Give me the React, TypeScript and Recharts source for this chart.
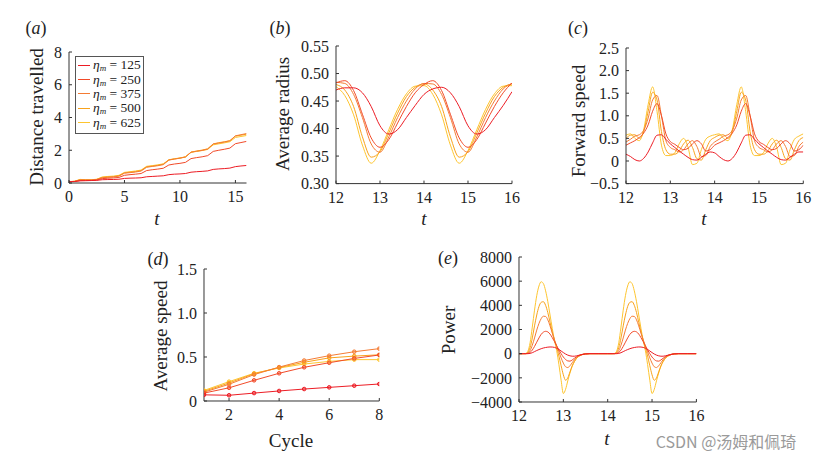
import React from 'react';
import { LineChart, Line, XAxis, YAxis } from 'recharts';

// ---------- shared ----------
const ETA = [125, 250, 375, 500, 625];
const COLORS = ['#ec1c24', '#f14a29', '#f47b33', '#f8a21b', '#fdc52f'];

// ---------- (a) distance travelled ----------
const tA = [0, 0.5, 1, 1.5, 2, 2.5, 3, 3.5, 4, 4.5, 5, 5.5, 6, 6.5, 7, 7.5, 8, 8.5, 9, 9.5, 10, 10.5, 11, 11.5, 12, 12.5, 13, 13.5, 14, 14.5, 15, 15.5, 16];
const distEta125 = [0.08, 0.09, 0.13, 0.14, 0.15, 0.16, 0.2, 0.21, 0.215, 0.23, 0.28, 0.295, 0.305, 0.32, 0.38, 0.4, 0.42, 0.44, 0.51, 0.54, 0.555, 0.58, 0.66, 0.69, 0.71, 0.74, 0.83, 0.86, 0.88, 0.91, 1.0, 1.04, 1.07];
const distEta250 = [0.08, 0.09, 0.15, 0.16, 0.16, 0.18, 0.27, 0.29, 0.31, 0.34, 0.47, 0.51, 0.54, 0.58, 0.76, 0.81, 0.85, 0.9, 1.1, 1.16, 1.2, 1.26, 1.49, 1.55, 1.6, 1.67, 1.93, 2.0, 2.06, 2.13, 2.4, 2.47, 2.54];
const distEta375 = [0.08, 0.1, 0.19, 0.18, 0.18, 0.21, 0.32, 0.35, 0.37, 0.42, 0.6, 0.63, 0.67, 0.73, 0.96, 1.01, 1.055, 1.12, 1.4, 1.46, 1.515, 1.59, 1.88, 1.94, 1.99, 2.07, 2.38, 2.44, 2.5, 2.58, 2.88, 2.95, 3.02];
const distEta500 = [0.08, 0.1, 0.2, 0.19, 0.19, 0.22, 0.34, 0.37, 0.39, 0.44, 0.62, 0.66, 0.7, 0.76, 0.99, 1.03, 1.08, 1.15, 1.41, 1.47, 1.52, 1.59, 1.89, 1.95, 2.01, 2.09, 2.39, 2.46, 2.52, 2.58, 2.86, 2.92, 2.98];
const distEta625 = [0.08, 0.11, 0.22, 0.2, 0.2, 0.23, 0.37, 0.4, 0.42, 0.47, 0.65, 0.69, 0.735, 0.79, 1.02, 1.06, 1.11, 1.17, 1.42, 1.48, 1.53, 1.6, 1.87, 1.93, 1.98, 2.05, 2.33, 2.39, 2.45, 2.52, 2.78, 2.84, 2.9];
const ticksAX = [0, 5, 10, 15];
const ticksAY = [0, 2, 4, 6, 8];

// ---------- (b) average radius ----------
const tB = [12, 12.2, 12.4, 12.6, 12.8, 13, 13.2, 13.4, 13.6, 13.8, 14, 14.2, 14.4, 14.6, 14.8, 15, 15.2, 15.4, 15.6, 15.8, 16];
const radEta125 = [0.47, 0.474, 0.474, 0.465, 0.44, 0.405, 0.39, 0.398, 0.42, 0.442, 0.462, 0.472, 0.475, 0.465, 0.44, 0.405, 0.39, 0.398, 0.42, 0.442, 0.467];
const radEta250 = [0.483, 0.487, 0.469, 0.426, 0.383, 0.366, 0.38, 0.41, 0.44, 0.465, 0.48, 0.487, 0.469, 0.426, 0.383, 0.366, 0.38, 0.41, 0.44, 0.465, 0.483];
const radEta375 = [0.484, 0.482, 0.462, 0.42, 0.372, 0.357, 0.385, 0.42, 0.45, 0.472, 0.482, 0.481, 0.462, 0.42, 0.372, 0.357, 0.385, 0.42, 0.45, 0.472, 0.482];
const radEta500 = [0.48, 0.47, 0.44, 0.385, 0.348, 0.358, 0.392, 0.428, 0.458, 0.475, 0.481, 0.47, 0.44, 0.385, 0.348, 0.358, 0.392, 0.428, 0.458, 0.475, 0.481];
const radEta625 = [0.476, 0.46, 0.425, 0.37, 0.337, 0.36, 0.398, 0.435, 0.463, 0.477, 0.478, 0.462, 0.425, 0.37, 0.337, 0.36, 0.398, 0.435, 0.463, 0.477, 0.478];
const ticksT = [12, 13, 14, 15, 16];
const ticksBY = [0.3, 0.35, 0.4, 0.45, 0.5, 0.55];

// ---------- (c) forward speed ----------
const tC = [12, 12.1, 12.2, 12.3, 12.4, 12.5, 12.6, 12.7, 12.8, 12.9, 13, 13.1, 13.2, 13.3, 13.4, 13.5, 13.6, 13.7, 13.8, 13.9, 14, 14.1, 14.2, 14.3, 14.4, 14.5, 14.6, 14.7, 14.8, 14.9, 15, 15.1, 15.2, 15.3, 15.4, 15.5, 15.6, 15.7, 15.8, 15.9, 16];
const speedEta125 = [0.15, 0.1, 0.03, 0.0, 0.06, 0.2, 0.4, 0.57, 0.58, 0.48, 0.38, 0.3, 0.22, 0.15, 0.08, 0.03, 0.02, 0.08, 0.15, 0.2, 0.18, 0.1, 0.03, 0.0, 0.06, 0.2, 0.4, 0.57, 0.58, 0.48, 0.38, 0.3, 0.22, 0.15, 0.08, 0.03, 0.02, 0.08, 0.15, 0.2, 0.2];
const speedEta250 = [0.35, 0.4, 0.45, 0.52, 0.62, 0.8, 1.1, 1.27, 1.0, 0.6, 0.43, 0.37, 0.3, 0.25, 0.28, 0.38, 0.45, 0.38, 0.22, 0.25, 0.35, 0.4, 0.45, 0.52, 0.62, 0.8, 1.1, 1.27, 1.0, 0.6, 0.43, 0.37, 0.3, 0.25, 0.28, 0.38, 0.45, 0.38, 0.22, 0.25, 0.35];
const speedEta375 = [0.42, 0.48, 0.55, 0.58, 0.68, 0.95, 1.35, 1.45, 1.0, 0.45, 0.3, 0.25, 0.2, 0.25, 0.38, 0.45, 0.32, 0.1, 0.12, 0.32, 0.42, 0.48, 0.55, 0.58, 0.68, 0.95, 1.35, 1.45, 1.0, 0.45, 0.3, 0.25, 0.2, 0.25, 0.38, 0.45, 0.32, 0.1, 0.12, 0.32, 0.42];
const speedEta500 = [0.5, 0.57, 0.58, 0.5, 0.65, 1.1, 1.52, 1.35, 0.65, 0.25, 0.15, 0.15, 0.22, 0.38, 0.46, 0.3, 0.05, 0.02, 0.25, 0.45, 0.52, 0.57, 0.58, 0.5, 0.65, 1.1, 1.52, 1.35, 0.65, 0.25, 0.15, 0.15, 0.22, 0.38, 0.46, 0.3, 0.05, 0.02, 0.25, 0.45, 0.52];
const speedEta625 = [0.57, 0.6, 0.5, 0.45, 0.7, 1.25, 1.64, 1.1, 0.35, 0.12, 0.12, 0.18, 0.38, 0.5, 0.3, -0.08, -0.05, 0.25, 0.48, 0.55, 0.58, 0.6, 0.5, 0.45, 0.7, 1.25, 1.64, 1.1, 0.35, 0.12, 0.12, 0.18, 0.38, 0.5, 0.3, -0.08, -0.05, 0.25, 0.48, 0.55, 0.6];
const ticksCY = [-0.5, 0, 0.5, 1, 1.5, 2, 2.5];

// ---------- (d) average speed per cycle ----------
const cycles = [1, 2, 3, 4, 5, 6, 7, 8];
const avgEta125 = [0.07, 0.065, 0.09, 0.114, 0.136, 0.155, 0.174, 0.193];
const avgEta250 = [0.09, 0.15, 0.235, 0.315, 0.383, 0.435, 0.484, 0.523];
const avgEta375 = [0.1, 0.19, 0.3, 0.385, 0.46, 0.515, 0.56, 0.595];
const avgEta500 = [0.11, 0.205, 0.31, 0.38, 0.44, 0.49, 0.51, 0.525];
const avgEta625 = [0.12, 0.22, 0.315, 0.375, 0.42, 0.45, 0.47, 0.47];
const ticksDX = [2, 4, 6, 8];
const ticksDY = [0, 0.5, 1, 1.5];

// ---------- (e) power ----------
const tE = [12, 12.1, 12.15, 12.2, 12.25, 12.3, 12.35, 12.4, 12.45, 12.5, 12.55, 12.6, 12.65, 12.7, 12.75, 12.8, 12.85, 12.9, 12.95, 13, 13.05, 13.1, 13.15, 13.2, 13.25, 13.3, 13.4, 13.5, 13.6, 13.8,
  14, 14.1, 14.15, 14.2, 14.25, 14.3, 14.35, 14.4, 14.45, 14.5, 14.55, 14.6, 14.65, 14.7, 14.75, 14.8, 14.85, 14.9, 14.95, 15, 15.05, 15.1, 15.15, 15.2, 15.25, 15.3, 15.4, 15.5, 15.6, 15.8, 16];
const powerEta125 = [0, 0, 0, 0, 20, 80, 170, 260, 340, 410, 470, 510, 540, 555, 550, 520, 450, 350, 220, 90, -30, -120, -180, -210, -210, -180, -90, -20, 0, 0,
  0, 0, 0, 0, 20, 80, 170, 260, 340, 410, 470, 510, 540, 555, 550, 520, 450, 350, 220, 90, -30, -120, -180, -210, -210, -180, -90, -20, 0, 0, 0];
const powerEta250 = [0, 0, 0, 20, 100, 300, 600, 950, 1300, 1600, 1780, 1850, 1800, 1620, 1330, 1000, 650, 300, 0, -280, -480, -600, -620, -520, -380, -250, -80, -15, 0, 0,
  0, 0, 0, 20, 100, 300, 600, 950, 1300, 1600, 1780, 1850, 1800, 1620, 1330, 1000, 650, 300, 0, -280, -480, -600, -620, -520, -380, -250, -80, -15, 0, 0, 0];
const powerEta375 = [0, 0, 0, 50, 250, 700, 1300, 1950, 2500, 2900, 3100, 3080, 2800, 2300, 1700, 1150, 650, 150, -350, -780, -1080, -1150, -1000, -750, -500, -300, -100, -20, 0, 0,
  0, 0, 0, 50, 250, 700, 1300, 1950, 2500, 2900, 3100, 3080, 2800, 2300, 1700, 1150, 650, 150, -350, -780, -1080, -1150, -1000, -750, -500, -300, -100, -20, 0, 0, 0];
const powerEta500 = [0, 0, 0, 100, 500, 1300, 2300, 3200, 3900, 4250, 4300, 4000, 3400, 2600, 1800, 1100, 500, -200, -1000, -1750, -2200, -2000, -1500, -1000, -650, -380, -120, -20, 0, 0,
  0, 0, 0, 100, 500, 1300, 2300, 3200, 3900, 4250, 4300, 4000, 3400, 2600, 1800, 1100, 500, -200, -1000, -1750, -2200, -2000, -1500, -1000, -650, -380, -120, -20, 0, 0, 0];
const powerEta625 = [0, 0, 20, 200, 900, 2200, 3600, 4800, 5600, 5950, 5800, 5200, 4300, 3200, 2100, 1100, 250, -900, -2200, -3300, -2950, -2250, -1600, -1050, -650, -380, -120, -20, 0, 0,
  0, 0, 20, 200, 900, 2200, 3600, 4800, 5600, 5950, 5800, 5200, 4300, 3200, 2100, 1100, 250, -900, -2200, -3300, -2950, -2250, -1600, -1050, -650, -380, -120, -20, 0, 0, 0];
const ticksEY = [-4000, -2000, 0, 2000, 4000, 6000, 8000];

// ---------- helpers ----------
function buildRows(ts: number[], series: number[][]) {
  return ts.map((t, i) => {
    const r: any = { t };
    series.forEach((s, j) => { r['s' + j] = s[i]; });
    return r;
  });
}

const dataA = buildRows(tA, [distEta125, distEta250, distEta375, distEta500, distEta625]);
const dataB = buildRows(tB, [radEta125, radEta250, radEta375, radEta500, radEta625]);
const dataC = buildRows(tC, [speedEta125, speedEta250, speedEta375, speedEta500, speedEta625]);
const dataD = buildRows(cycles, [avgEta125, avgEta250, avgEta375, avgEta500, avgEta625]);
const dataE = buildRows(tE, [powerEta125, powerEta250, powerEta375, powerEta500, powerEta625]);

const SERIF = "'Liberation Serif', 'DejaVu Serif', 'Times New Roman', serif";
const tickStyle = { fill: '#222', fontSize: 16, fontFamily: SERIF };
const minus = (s: string) => s.replace('-', '\u2212');
const fmt1 = (v: number) => (v === 0 ? '0' : minus(v.toFixed(1)));
const fmt2 = (v: number) => v.toFixed(2);
const fmtInt = (v: number) => minus(String(v));

const YW = 60, XH = 30, MT = 10, MR = 12;

type PanelProps = {
  x0: number; x1: number; y0: number; y1: number;
  data: any[]; xDomain: [number, number]; yDomain: [number, number];
  xTicks: number[]; yTicks: number[];
  fmtX?: (v: number) => string; fmtY?: (v: number) => string;
  dots?: boolean; curve?: 'monotone' | 'linear';
};

function Panel(p: PanelProps) {
  const w = YW + (p.x1 - p.x0) + MR;
  const h = MT + (p.y1 - p.y0) + XH;
  const order = [4, 3, 2, 1, 0];
  return (
    <div style={{ position: 'absolute', left: p.x0 - YW, top: p.y0 - MT }}>
      <LineChart width={w} height={h} data={p.data} margin={{ top: MT, right: MR, bottom: 0, left: 0 }}>
        <XAxis dataKey="t" type="number" domain={p.xDomain} ticks={p.xTicks} interval={0} allowDataOverflow
          height={XH} tickSize={-3} tickMargin={11} stroke="#333" tick={tickStyle} tickFormatter={p.fmtX} />
        <YAxis type="number" domain={p.yDomain} ticks={p.yTicks} interval={0} allowDataOverflow
          width={YW} tickSize={-3} tickMargin={10} stroke="#333" tick={tickStyle} tickFormatter={p.fmtY} />
        {order.map((j) => (
          <Line key={j} type={p.curve || 'monotone'} dataKey={'s' + j} stroke={COLORS[j]} strokeWidth={1}
            dot={p.dots ? { r: 1.8, stroke: COLORS[j], strokeWidth: 1, fill: COLORS[j], fillOpacity: 0.45 } : false}
            isAnimationActive={false} />
        ))}
      </LineChart>
    </div>
  );
}

function Txt({ x, y, children, size = 19, italic = false, rotate = false, color = '#222', family = SERIF }: any) {
  return (
    <div style={{
      position: 'absolute', left: x, top: y, whiteSpace: 'nowrap', fontSize: size, fontFamily: family,
      fontStyle: italic ? 'italic' : 'normal', color, lineHeight: 1,
      transform: `translate(-50%, -50%)${rotate ? ' rotate(-90deg)' : ''}`,
    }}>{children}</div>
  );
}

function PanelTag({ x, y, letter }: { x: number; y: number; letter: string }) {
  return <Txt x={x} y={y} size={18}>(<i>{letter}</i>)</Txt>;
}

function LegendBox() {
  return (
    <div style={{
      position: 'absolute', left: 75, top: 56, width: 67, height: 75, border: '1px solid #555',
      background: '#fff', fontFamily: SERIF, fontSize: 13.5, color: '#222', paddingTop: 1,
    }}>
      {ETA.map((e, i) => (
        <div key={e} style={{ height: 14.4, display: 'flex', alignItems: 'center', whiteSpace: 'nowrap' }}>
          <span style={{ display: 'inline-block', width: 12, borderTop: `1px solid ${COLORS[i]}`, marginLeft: 2, marginRight: 3 }} />
          <span><i>η</i><sub style={{ fontSize: 9, verticalAlign: '-2px' }}><i>m</i></sub> = {e}</span>
        </div>
      ))}
    </div>
  );
}

export default function App() {
  return (
    <div style={{ position: 'absolute', left: 0, top: 0, width: 828, height: 464, background: '#fff', overflow: 'hidden', fontFamily: SERIF }}>
      {/* (a) */}
      <Panel x0={69} x1={246.5} y0={52} y1={183} data={dataA} xDomain={[0, 16]} yDomain={[0, 8]}
        xTicks={ticksAX} yTicks={ticksAY} curve="linear" />
      <LegendBox />
      <PanelTag x={36} y={28} letter="a" />
      <Txt x={36} y={117} rotate>Distance travelled</Txt>
      <Txt x={157} y={218} italic>t</Txt>

      {/* (b) */}
      <Panel x0={336} x1={512} y0={45.7} y1={183.3} data={dataB} xDomain={[12, 16]} yDomain={[0.3, 0.55]}
        xTicks={ticksT} yTicks={ticksBY} fmtY={fmt2} />
      <PanelTag x={280} y={28} letter="b" />
      <Txt x={282} y={114} rotate>Average radius</Txt>
      <Txt x={424} y={218} italic>t</Txt>

      {/* (c) */}
      <Panel x0={626} x1={803.3} y0={47.7} y1={183.3} data={dataC} xDomain={[12, 16]} yDomain={[-0.5, 2.5]}
        xTicks={ticksT} yTicks={ticksCY} fmtY={fmt1} />
      <PanelTag x={578} y={28} letter="c" />
      <Txt x={578} y={121} rotate>Forward speed</Txt>
      <Txt x={704} y={218} italic>t</Txt>

      {/* (d) */}
      <Panel x0={204} x1={379.3} y0={269.3} y1={401.3} data={dataD} xDomain={[1, 8]} yDomain={[0, 1.5]}
        xTicks={ticksDX} yTicks={ticksDY} fmtY={fmt1} dots curve="linear" />
      <PanelTag x={158} y={259} letter="d" />
      <Txt x={160} y={336} rotate>Average speed</Txt>
      <Txt x={291} y={440}>Cycle</Txt>

      {/* (e) */}
      <Panel x0={519.3} x1={696.7} y0={256.7} y1={401.7} data={dataE} xDomain={[12, 16]} yDomain={[-4000, 8000]}
        xTicks={ticksT} yTicks={ticksEY} fmtY={fmtInt} />
      <PanelTag x={448} y={258} letter="e" />
      <Txt x={448} y={330} rotate>Power</Txt>
      <Txt x={607} y={438} italic>t</Txt>

      <Txt x={726} y={441} size={16} color="#9a9a9a" family="'Noto Sans CJK SC', 'Noto Sans', sans-serif">CSDN @汤姆和佩琦</Txt>
    </div>
  );
}
